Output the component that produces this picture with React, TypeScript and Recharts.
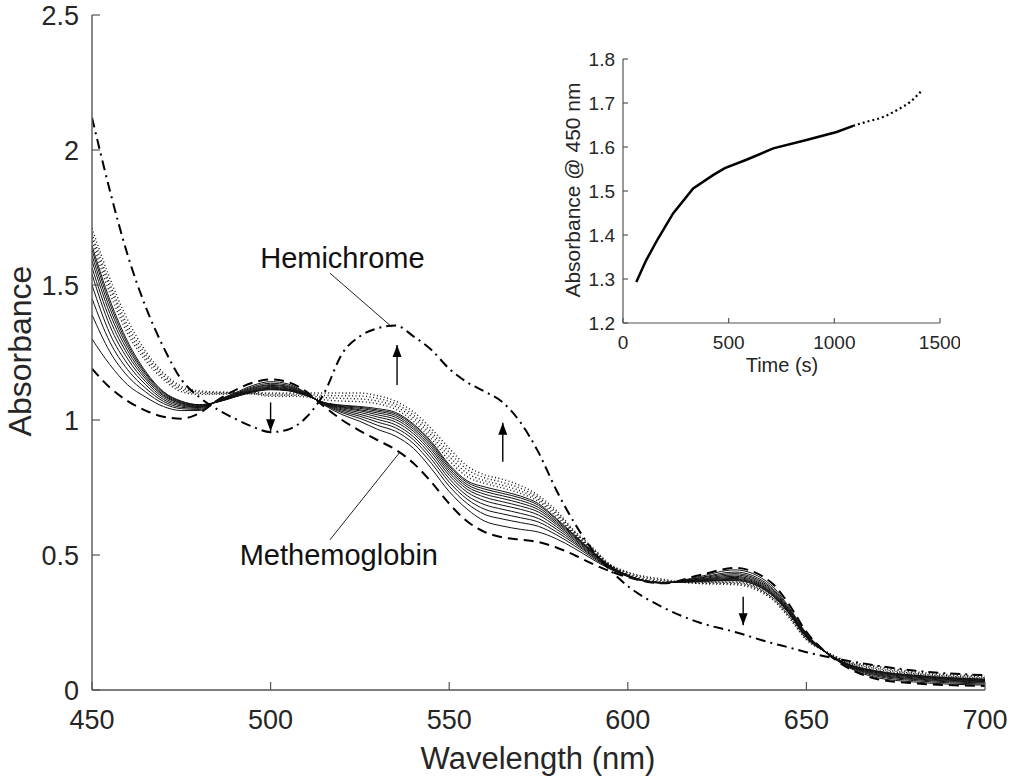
import React from "react";
import { LineChart, Line, XAxis, YAxis, ReferenceLine, ReferenceDot } from "recharts";

// wavelength grid (nm)
const wavelengths = [
  450, 455, 460, 465, 470, 475, 480, 485, 490, 495, 500, 505, 510, 515, 520, 525,
  530, 535, 540, 545, 550, 555, 560, 565, 570, 575, 580, 585, 590, 595, 600, 610,
  620, 630, 640, 645, 650, 655, 660, 670, 680, 700,
];

// first spectrum (dashed)
const metHb = [
  1.19, 1.12, 1.07, 1.035, 1.012, 1.005, 1.025, 1.072, 1.11, 1.138, 1.15, 1.14, 1.105,
  1.05, 1.0, 0.96, 0.925, 0.89, 0.84, 0.77, 0.69, 0.625, 0.585, 0.565, 0.557, 0.548,
  0.528, 0.5, 0.468, 0.44, 0.418, 0.395, 0.425, 0.452, 0.4, 0.32, 0.215, 0.145, 0.095,
  0.04, 0.025, 0.015,
];

// final spectrum (dash-dot)
const hemichrome = [
  2.12, 1.85, 1.61, 1.42, 1.27, 1.15, 1.085, 1.04, 1.005, 0.975, 0.955, 0.965, 1.01,
  1.1, 1.245, 1.31, 1.34, 1.35, 1.31, 1.26, 1.19, 1.14, 1.105, 1.065, 0.99, 0.88, 0.74,
  0.62, 0.52, 0.445, 0.385, 0.305, 0.25, 0.215, 0.175, 0.158, 0.14, 0.125, 0.112, 0.09,
  0.072, 0.055,
];

// one row per wavelength: the 10 intermediate (solid) spectra
const intermediateRows = [
  [1.3, 1.39, 1.45, 1.5, 1.54, 1.565, 1.59, 1.61, 1.63, 1.645],
  [1.205, 1.253, 1.289, 1.32, 1.349, 1.373, 1.395, 1.414, 1.431, 1.445],
  [1.13, 1.162, 1.186, 1.207, 1.226, 1.242, 1.256, 1.269, 1.28, 1.29],
  [1.085, 1.104, 1.118, 1.131, 1.142, 1.152, 1.16, 1.168, 1.174, 1.18],
  [1.05, 1.061, 1.069, 1.076, 1.083, 1.089, 1.093, 1.098, 1.102, 1.105],
  [1.035, 1.042, 1.047, 1.052, 1.056, 1.06, 1.063, 1.065, 1.068, 1.07],
  [1.035, 1.039, 1.043, 1.046, 1.048, 1.05, 1.052, 1.054, 1.056, 1.057],
  [1.072, 1.071, 1.07, 1.069, 1.068, 1.068, 1.067, 1.067, 1.066, 1.066],
  [1.1, 1.097, 1.095, 1.093, 1.091, 1.089, 1.088, 1.087, 1.086, 1.085],
  [1.128, 1.123, 1.119, 1.116, 1.113, 1.11, 1.108, 1.106, 1.104, 1.103],
  [1.142, 1.136, 1.131, 1.128, 1.124, 1.121, 1.118, 1.116, 1.114, 1.112],
  [1.133, 1.128, 1.124, 1.121, 1.118, 1.115, 1.113, 1.111, 1.109, 1.108],
  [1.1, 1.098, 1.097, 1.095, 1.094, 1.093, 1.092, 1.091, 1.091, 1.09],
  [1.055, 1.057, 1.059, 1.06, 1.061, 1.062, 1.063, 1.064, 1.064, 1.065],
  [1.02, 1.027, 1.032, 1.037, 1.041, 1.045, 1.048, 1.05, 1.053, 1.055],
  [0.995, 1.006, 1.014, 1.021, 1.028, 1.034, 1.038, 1.043, 1.047, 1.05],
  [0.965, 0.98, 0.992, 1.002, 1.011, 1.019, 1.026, 1.032, 1.037, 1.042],
  [0.94, 0.958, 0.971, 0.982, 0.993, 1.002, 1.01, 1.017, 1.023, 1.028],
  [0.895, 0.913, 0.927, 0.938, 0.949, 0.958, 0.966, 0.973, 0.98, 0.985],
  [0.82, 0.84, 0.855, 0.868, 0.88, 0.89, 0.899, 0.907, 0.914, 0.92],
  [0.735, 0.755, 0.77, 0.783, 0.795, 0.805, 0.814, 0.822, 0.829, 0.835],
  [0.67, 0.691, 0.707, 0.72, 0.733, 0.744, 0.753, 0.761, 0.769, 0.775],
  [0.625, 0.65, 0.669, 0.686, 0.701, 0.714, 0.725, 0.735, 0.744, 0.752],
  [0.607, 0.633, 0.652, 0.669, 0.684, 0.697, 0.709, 0.719, 0.728, 0.736],
  [0.595, 0.62, 0.638, 0.654, 0.669, 0.681, 0.692, 0.702, 0.711, 0.718],
  [0.585, 0.606, 0.622, 0.635, 0.648, 0.659, 0.668, 0.676, 0.684, 0.69],
  [0.56, 0.575, 0.586, 0.596, 0.605, 0.613, 0.619, 0.625, 0.631, 0.635],
  [0.525, 0.535, 0.543, 0.549, 0.555, 0.56, 0.565, 0.569, 0.572, 0.575],
  [0.485, 0.491, 0.496, 0.499, 0.503, 0.506, 0.509, 0.511, 0.513, 0.515],
  [0.448, 0.45, 0.452, 0.454, 0.455, 0.456, 0.457, 0.458, 0.459, 0.46],
  [0.42, 0.421, 0.422, 0.422, 0.423, 0.423, 0.424, 0.424, 0.425, 0.425],
  [0.396, 0.396, 0.397, 0.397, 0.397, 0.397, 0.398, 0.398, 0.398, 0.398],
  [0.42, 0.416, 0.414, 0.411, 0.409, 0.407, 0.406, 0.404, 0.403, 0.402],
  [0.445, 0.437, 0.431, 0.426, 0.421, 0.417, 0.413, 0.41, 0.407, 0.405],
  [0.39, 0.383, 0.378, 0.373, 0.369, 0.365, 0.362, 0.36, 0.357, 0.355],
  [0.31, 0.305, 0.301, 0.298, 0.295, 0.293, 0.29, 0.288, 0.287, 0.285],
  [0.21, 0.207, 0.205, 0.203, 0.201, 0.2, 0.198, 0.197, 0.196, 0.195],
  [0.145, 0.145, 0.144, 0.144, 0.144, 0.144, 0.143, 0.143, 0.143, 0.143],
  [0.097, 0.099, 0.1, 0.101, 0.102, 0.103, 0.103, 0.104, 0.105, 0.105],
  [0.045, 0.05, 0.054, 0.057, 0.06, 0.063, 0.065, 0.067, 0.069, 0.07],
  [0.03, 0.035, 0.039, 0.042, 0.045, 0.048, 0.05, 0.052, 0.054, 0.055],
  [0.018, 0.022, 0.026, 0.029, 0.031, 0.033, 0.035, 0.037, 0.039, 0.04],
];

// one row per wavelength: the 4 later (dotted) spectra
const dottedRows = [
  [1.66, 1.675, 1.69, 1.71],
  [1.47, 1.49, 1.505, 1.525],
  [1.32, 1.335, 1.35, 1.37],
  [1.22, 1.232, 1.243, 1.255],
  [1.15, 1.158, 1.166, 1.175],
  [1.105, 1.112, 1.118, 1.125],
  [1.095, 1.099, 1.104, 1.108],
  [1.095, 1.098, 1.101, 1.104],
  [1.097, 1.099, 1.101, 1.103],
  [1.096, 1.098, 1.1, 1.102],
  [1.088, 1.092, 1.096, 1.1],
  [1.088, 1.092, 1.096, 1.1],
  [1.085, 1.09, 1.095, 1.1],
  [1.075, 1.083, 1.091, 1.1],
  [1.07, 1.08, 1.09, 1.1],
  [1.068, 1.078, 1.089, 1.1],
  [1.06, 1.07, 1.08, 1.09],
  [1.04, 1.05, 1.06, 1.07],
  [0.995, 1.007, 1.018, 1.03],
  [0.93, 0.943, 0.955, 0.968],
  [0.85, 0.865, 0.88, 0.895],
  [0.79, 0.803, 0.817, 0.83],
  [0.765, 0.775, 0.786, 0.797],
  [0.748, 0.758, 0.769, 0.78],
  [0.728, 0.737, 0.747, 0.757],
  [0.698, 0.705, 0.712, 0.72],
  [0.642, 0.65, 0.657, 0.665],
  [0.578, 0.582, 0.586, 0.59],
  [0.518, 0.522, 0.526, 0.53],
  [0.461, 0.462, 0.464, 0.466],
  [0.428, 0.431, 0.434, 0.437],
  [0.4, 0.403, 0.406, 0.41],
  [0.4, 0.398, 0.396, 0.394],
  [0.4, 0.397, 0.394, 0.39],
  [0.35, 0.347, 0.344, 0.34],
  [0.28, 0.277, 0.274, 0.27],
  [0.192, 0.19, 0.188, 0.186],
  [0.143, 0.144, 0.145, 0.146],
  [0.108, 0.11, 0.112, 0.114],
  [0.075, 0.079, 0.083, 0.088],
  [0.058, 0.061, 0.064, 0.068],
  [0.042, 0.045, 0.048, 0.052],
];

const xTicks = [450, 500, 550, 600, 650, 700];
const yTicks = [0, 0.5, 1, 1.5, 2, 2.5];

// inset: absorbance at 450 nm vs time
const insetTimeSolid = [63, 110, 166, 237, 332, 426, 482, 584, 711, 868, 1011, 1089];
const insetAbsSolid = [1.293, 1.343, 1.392, 1.449, 1.506, 1.536, 1.552, 1.571, 1.597, 1.616, 1.634, 1.648];
const insetTimeDotted = [1089, 1150, 1230, 1300, 1360, 1413];
const insetAbsDotted = [1.648, 1.657, 1.668, 1.685, 1.703, 1.728];
const insetXTicks = [0, 500, 1000, 1500];
const insetYTicks = [1.2, 1.3, 1.4, 1.5, 1.6, 1.7, 1.8];

// arrows: wavelength, shaft start, tip
const arrows = [
  { x: 500, from: 1.065, to: 0.958 },
  { x: 535.4, from: 1.13, to: 1.278 },
  { x: 565, from: 0.845, to: 0.99 },
  { x: 632.3, from: 0.345, to: 0.24 },
];

const tableData = wavelengths.map((w, i) => {
  const row: any = { w, met: metHb[i], hemi: hemichrome[i] };
  intermediateRows[i].forEach((v, k) => (row["s" + k] = v));
  dottedRows[i].forEach((v, k) => (row["p" + k] = v));
  return row;
});
const insetSolid = insetTimeSolid.map((t, i) => ({ t, a: insetAbsSolid[i] }));
const insetDotted = insetTimeDotted.map((t, i) => ({ t, a: insetAbsDotted[i] }));

const FONT = "'Liberation Sans', Arial, Helvetica, sans-serif";
const TEXT = "#262626";
const AXIS = "#555";

const makeYTick = (margin: number, len: number, size: number) => (props: any) => {
  const { x, y, payload } = props;
  return (
    <g>
      <line x1={x + margin} x2={x + margin + len} y1={y} y2={y} stroke={AXIS} strokeWidth={1.2} />
      <text x={x} y={y} dy="0.36em" textAnchor="end" fontSize={size} fontFamily={FONT} fill={TEXT}>
        {String(payload.value)}
      </text>
    </g>
  );
};

const makeXTick = (margin: number, len: number, size: number) => (props: any) => {
  const { x, y, payload } = props;
  return (
    <g>
      <line x1={x} x2={x} y1={y - margin} y2={y - margin - len} stroke={AXIS} strokeWidth={1.2} />
      <text x={x} y={y} dy="0.72em" textAnchor="middle" fontSize={size} fontFamily={FONT} fill={TEXT}>
        {String(payload.value)}
      </text>
    </g>
  );
};

const arrowHead = (down: boolean) => (p: any) => {
  const { cx, cy } = p;
  const b = down ? cy - 12 : cy + 12;
  return <polygon points={`${cx},${cy} ${cx - 4.5},${b} ${cx + 4.5},${b}`} fill="#000" />;
};

const label = (txt: string) => (p: any) => (
  <text x={p.cx} y={p.cy} textAnchor="middle" fontSize={29} fontFamily={FONT} fill="#111">
    {txt}
  </text>
);

const App = () => {
  return (
    <div style={{ position: "absolute", left: 0, top: 0, width: 1020, height: 783, background: "#fff" }}>
      <LineChart
        width={1020}
        height={783}
        data={tableData}
        margin={{ top: 15, right: 35, bottom: 0, left: 0 }}
      >
        <XAxis
          dataKey="w"
          type="number"
          domain={[450, 700]}
          ticks={xTicks}
          interval={0}
          height={93}
          tickSize={0}
          tickMargin={20}
          tickLine={false}
          axisLine={{ stroke: AXIS, strokeWidth: 1.4 }}
          tick={makeXTick(20, 8, 27)}
          allowDataOverflow
        />
        <YAxis
          type="number"
          domain={[0, 2.5]}
          ticks={yTicks}
          interval={0}
          width={92}
          tickSize={0}
          tickMargin={13}
          tickLine={false}
          axisLine={{ stroke: AXIS, strokeWidth: 1.4 }}
          tick={makeYTick(13, 8, 27)}
          allowDataOverflow
        />
        <Line dataKey="met" type="monotone" stroke="#000" strokeWidth={2} strokeDasharray="10 6" dot={false} isAnimationActive={false} />
        {intermediateRows[0].map((_, k) => (
          <Line key={"s" + k} dataKey={"s" + k} type="monotone" stroke="#111" strokeWidth={1} dot={false} isAnimationActive={false} />
        ))}
        {dottedRows[0].map((_, k) => (
          <Line key={"p" + k} dataKey={"p" + k} type="monotone" stroke="#111" strokeWidth={1.4} strokeDasharray="1 2.5" dot={false} isAnimationActive={false} />
        ))}
        <Line dataKey="hemi" type="monotone" stroke="#000" strokeWidth={2} strokeDasharray="10 5 2 5" dot={false} isAnimationActive={false} />

        {arrows.map((a, i) => (
          <ReferenceLine
            key={"as" + i}
            segment={[{ x: a.x, y: a.from }, { x: a.x, y: a.to }]}
            stroke="#000"
            strokeWidth={1.4}
          />
        ))}
        {arrows.map((a, i) => (
          <ReferenceDot key={"ah" + i} x={a.x} y={a.to} r={1} shape={arrowHead(a.to < a.from)} />
        ))}

        <ReferenceLine segment={[{ x: 516.6, y: 1.544 }, { x: 534, y: 1.344 }]} stroke="#222" strokeWidth={1} />
        <ReferenceLine segment={[{ x: 516.6, y: 0.556 }, { x: 536.2, y: 0.881 }]} stroke="#222" strokeWidth={1} />
        <ReferenceDot x={520.1} y={1.563} r={1} shape={label("Hemichrome")} />
        <ReferenceDot x={519.1} y={0.463} r={1} shape={label("Methemoglobin")} />
      </LineChart>

      <div style={{ position: "absolute", left: 540, top: 30 }}>
        <LineChart width={420} height={360} margin={{ top: 29, right: 20, bottom: 0, left: 0 }}>
          <XAxis
            dataKey="t"
            type="number"
            domain={[0, 1500]}
            ticks={insetXTicks}
            interval={0}
            height={67}
            tickSize={0}
            tickMargin={12}
            tickLine={false}
            axisLine={{ stroke: AXIS, strokeWidth: 1.2 }}
            tick={makeXTick(12, 5, 19)}
            allowDataOverflow
          />
          <YAxis
            type="number"
            domain={[1.2, 1.8]}
            ticks={insetYTicks}
            interval={0}
            width={83}
            tickSize={0}
            tickMargin={8}
            tickLine={false}
            axisLine={{ stroke: AXIS, strokeWidth: 1.2 }}
            tick={makeYTick(8, 5, 19)}
            allowDataOverflow
          />
          <Line data={insetSolid} dataKey="a" type="linear" stroke="#000" strokeWidth={2.5} dot={false} isAnimationActive={false} />
          <Line data={insetDotted} dataKey="a" type="monotone" stroke="#000" strokeWidth={2.2} strokeDasharray="2 3" dot={false} isAnimationActive={false} />
        </LineChart>
      </div>

      <svg width={1020} height={783} style={{ position: "absolute", left: 0, top: 0, pointerEvents: "none" }}>
        <text x={538} y={769} textAnchor="middle" fontSize={31} fontFamily={FONT} fill={TEXT}>
          Wavelength (nm)
        </text>
        <text x={31} y={351} textAnchor="middle" fontSize={32} fontFamily={FONT} fill={TEXT} transform="rotate(-90 31 351)">
          Absorbance
        </text>
        <text x={782} y={372} textAnchor="middle" fontSize={20} fontFamily={FONT} fill={TEXT}>
          Time (s)
        </text>
        <text x={580} y={190} textAnchor="middle" fontSize={21} fontFamily={FONT} fill={TEXT} transform="rotate(-90 580 190)">
          Absorbance @ 450 nm
        </text>
      </svg>
    </div>
  );
};

export default App;
